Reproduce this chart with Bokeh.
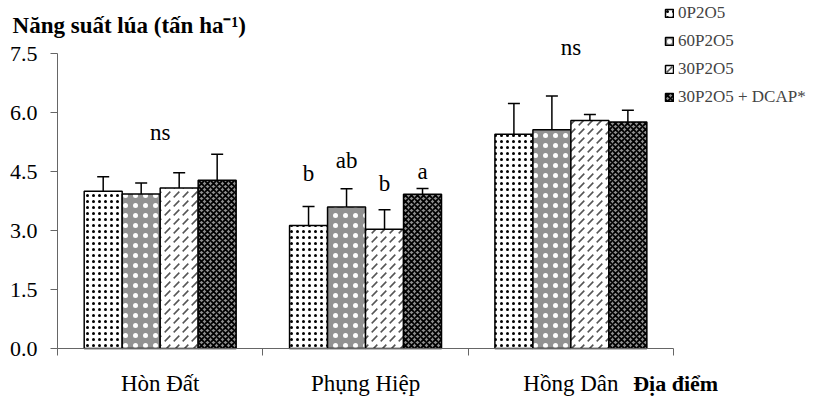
from bokeh.plotting import figure
from bokeh.models import (ColumnDataSource, Whisker, TeeHead, Legend, LegendItem,
                          FixedTicker, Range1d, NumeralTickFormatter)
from bokeh.core.properties import value
from bokeh.embed import file_html
from bokeh.resources import INLINE

# ---------------- data ----------------
sites = ["Hòn Đất", "Phụng Hiệp", "Hồng Dân"]
series = ["0P2O5", "60P2O5", "30P2O5", "30P2O5 + DCAP*"]

yield_0p = [4.00, 3.13, 5.45]
yield_60p = [3.93, 3.60, 5.56]
yield_30p = [4.08, 3.03, 5.80]
yield_30p_dcap = [4.28, 3.92, 5.76]

err_0p = [0.37, 0.48, 0.78]
err_60p = [0.28, 0.46, 0.86]
err_30p = [0.39, 0.50, 0.15]
err_30p_dcap = [0.66, 0.15, 0.30]

# significance letters: site index, series index (None = whole group), text, height
sig_site = [0, 1, 1, 1, 1, 2]
sig_series = [None, 0, 1, 2, 3, None]
sig_text = ["ns", "b", "ab", "b", "a", "ns"]
sig_height = [5.49, 4.45, 4.78, 4.19, 4.50, 7.65]

y_ticks = [0.0, 1.5, 3.0, 4.5, 6.0, 7.5]
y_title = "Năng suất lúa (tấn ha⁻¹)"
x_title = "Địa điểm"

# ---------------- styles ----------------
FONT = "Liberation Serif"
bar_w = 0.185
offsets = [-1.5 * bar_w, -0.5 * bar_w, 0.5 * bar_w, 1.5 * bar_w]
styles = [
    dict(fill_color="white", hatch_pattern="dot", hatch_color="black", hatch_scale=6, hatch_weight=1.3),
    dict(fill_color="#929292", hatch_pattern="dot", hatch_color="white", hatch_scale=10, hatch_weight=1.6),
    dict(fill_color="white", hatch_pattern="right_diagonal_dash", hatch_color="#555555", hatch_scale=9, hatch_weight=1.6),
    dict(fill_color="#8f8f8f", hatch_pattern="diagonal_cross", hatch_color="black", hatch_scale=6, hatch_weight=1.8),
]
means = [yield_0p, yield_60p, yield_30p, yield_30p_dcap]
errs = [err_0p, err_60p, err_30p, err_30p_dcap]

p = figure(width=824, height=398,
           x_range=Range1d(-0.2776, 3.735), y_range=Range1d(-1.271, 8.848),
           output_backend="svg", toolbar_location=None, min_border=0)
p.outline_line_color = None
p.xgrid.grid_line_color = None
p.ygrid.grid_line_color = None
p.background_fill_color = "white"

renderers = []
for k, (vals, ev, st) in enumerate(zip(means, errs, styles)):
    xs = [i + 0.5 + offsets[k] for i in range(len(sites))]
    src = ColumnDataSource(dict(x=xs, top=vals,
                                upper=[v + e for v, e in zip(vals, ev)],
                                lower=[v - e for v, e in zip(vals, ev)]))
    r = p.vbar(x="x", top="top", bottom=0, width=bar_w, source=src,
               line_color="black", line_width=1.5, **st)
    renderers.append(r)
    w = Whisker(base="x", upper="upper", lower="lower", source=src,
                line_color="black", line_width=1.5,
                upper_head=TeeHead(size=12, line_color="black", line_width=1.5),
                lower_head=TeeHead(size=12, line_color="black", line_width=1.5))
    p.add_layout(w)

# significance letters
sx = [s + 0.5 + (0 if k is None else offsets[k]) for s, k in zip(sig_site, sig_series)]
sig_src = ColumnDataSource(dict(x=sx, y=sig_height, t=sig_text))
p.text(x="x", y="y", text="t", source=sig_src, text_align="center", text_baseline="middle",
       text_font=value(FONT), text_font_size="23px", text_color="black")

# axis titles (drawn as text in the frame)
p.text(x=[-0.219], y=[8.21], text=[y_title], text_align="left", text_baseline="middle",
       text_font=value(FONT), text_font_size="23px", text_font_style="bold", text_color="black")
p.text(x=[3.01], y=[-0.89], text=[x_title], text_align="center", text_baseline="middle",
       text_font=value(FONT), text_font_size="22px", text_font_style="bold", text_color="black")

# axes
xa = p.xaxis[0]
xa.fixed_location = 0
xa.bounds = (0, 3)
xa.ticker = FixedTicker(ticks=[i + 0.5 for i in range(len(sites))],
                        minor_ticks=list(range(len(sites) + 1)))
xa.major_label_overrides = {i + 0.5: s for i, s in enumerate(sites)}
xa.major_tick_out = 0
xa.major_tick_in = 0
xa.minor_tick_out = 7
xa.minor_tick_in = 0
xa.major_label_standoff = 15
xa.major_label_text_font = FONT
xa.major_label_text_font_size = "23px"
xa.major_label_text_color = "black"
xa.axis_line_color = "#666666"
xa.minor_tick_line_color = "#666666"

ya = p.yaxis[0]
ya.fixed_location = 0
ya.bounds = (0, 7.5)
ya.ticker = FixedTicker(ticks=y_ticks, minor_ticks=[])
ya.formatter = NumeralTickFormatter(format="0.0")
ya.major_tick_out = 7
ya.major_tick_in = 0
ya.major_label_standoff = 13
ya.major_label_text_font = FONT
ya.major_label_text_font_size = "22px"
ya.major_label_text_color = "black"
ya.axis_line_color = "#666666"
ya.major_tick_line_color = "#666666"

legend = Legend(items=[LegendItem(label=s, renderers=[r]) for s, r in zip(series, renderers)],
                location=(664, 291), glyph_width=10, glyph_height=10, label_height=20,
                spacing=8, padding=0, margin=0, label_standoff=4,
                label_text_font=FONT, label_text_font_size="17px",
                border_line_color=None, background_fill_alpha=0)
p.add_layout(legend)

open("out.html", "w").write(file_html(p, INLINE))
